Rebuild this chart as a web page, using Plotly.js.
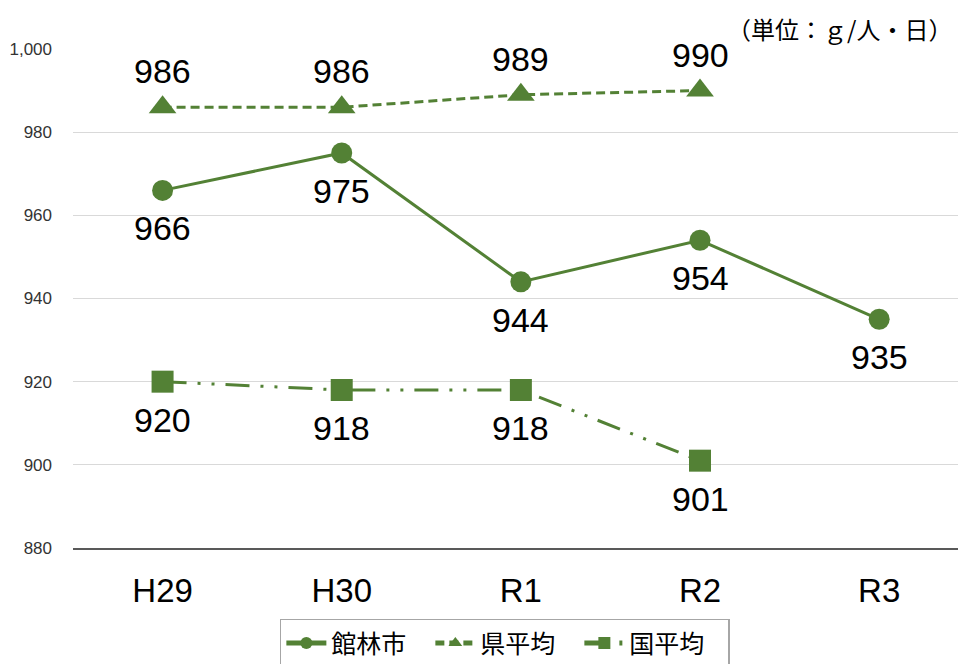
<!DOCTYPE html>
<html>
<head>
<meta charset="utf-8">
<script src="https://cdn.plot.ly/plotly-3.0.1.min.js"></script>
<style>
  html, body { margin: 0; padding: 0; background: #fff; overflow: hidden; }
  #chart { width: 958px; height: 664px; }
</style>
</head>
<body>
<div id="chart"></div>
<script>
// Fiscal years
const years = ['H29', 'H30', 'R1', 'R2', 'R3'];

// Daily waste per person (g/人・日)
const tatebayashi = [966, 975, 944, 954, 935];
const prefAverage = [986, 986, 989, 990, null];
const nationalAverage = [920, 918, 918, 901, null];

const yTicks = [880, 900, 920, 940, 960, 980, 1000];
const yTickLabels = ['880', '900', '920', '940', '960', '980', '1,000'];

const green = '#538135';
const latin = 'Liberation Sans, Arial, sans-serif';
const cjk = 'Noto Sans CJK JP, sans-serif';

const traces = [
  {
    name: '館林市',
    x: years, y: tatebayashi,
    mode: 'lines+markers',
    line: { color: green, width: 3 },
    marker: { symbol: 'circle', size: 21, color: green },
    cliponaxis: false
  },
  {
    name: '県平均',
    x: years, y: prefAverage,
    mode: 'lines+markers',
    line: { color: green, width: 3, dash: '9px,5px' },
    marker: { symbol: 'triangle-up', size: 24, color: green },
    cliponaxis: false
  },
  {
    name: '国平均',
    x: years, y: nationalAverage,
    mode: 'lines+markers',
    line: { color: green, width: 3, dash: '24px,11px,3px,11px,3px,11px' },
    marker: { symbol: 'square', size: 22, color: green },
    cliponaxis: false
  }
];

// Value labels: above the prefecture series, below the others
function valueLabels(values, shift) {
  const out = [];
  values.forEach((v, i) => {
    if (v === null) return;
    out.push({
      x: years[i], y: v, xref: 'x', yref: 'y',
      text: String(v), showarrow: false,
      xanchor: 'center', yanchor: 'middle', yshift: shift,
      font: { family: latin, size: 34, color: '#000' }
    });
  });
  return out;
}

const annotations = [
  ...valueLabels(tatebayashi, -38),
  ...valueLabels(prefAverage, 36),
  ...valueLabels(nationalAverage, -38),
  {
    text: '（単位：ｇ/人・日）',
    xref: 'paper', yref: 'paper',
    x: 0.996, y: 1.042,
    xanchor: 'right', yanchor: 'middle',
    showarrow: false,
    font: { family: cjk, size: 24, color: '#000' }
  }
];

const layout = {
  width: 958,
  height: 664,
  margin: { l: 73, r: 0, t: 49, b: 116 },
  paper_bgcolor: '#fff',
  plot_bgcolor: '#fff',
  showlegend: true,
  font: { family: latin, color: '#000' },
  xaxis: {
    type: 'category',
    range: [-0.5, 4.44],
    showgrid: false,
    zeroline: false,
    showline: true,
    linecolor: '#595959',
    linewidth: 2,
    ticks: '',
    ticklabelstandoff: 12,
    tickfont: { family: latin, size: 33, color: '#000' },
    fixedrange: true
  },
  yaxis: {
    range: [880, 1000],
    tickvals: yTicks,
    ticktext: yTickLabels,
    showgrid: true,
    gridcolor: '#d9d9d9',
    gridwidth: 1,
    zeroline: false,
    showline: false,
    ticks: '',
    ticklabelstandoff: 20,
    tickfont: { family: latin, size: 17, color: '#333' },
    fixedrange: true
  },
  legend: {
    orientation: 'h',
    xref: 'container', yref: 'container',
    x: 0.527, xanchor: 'center',
    y: 0.068, yanchor: 'top',
    bordercolor: '#a6a6a6',
    borderwidth: 1.5,
    bgcolor: '#fff',
    font: { family: cjk, size: 25, color: '#000' },
    itemsizing: 'constant',
    itemwidth: 40,
    entrywidth: 94,
    tracegroupgap: 0
  },
  annotations: annotations
};

Plotly.newPlot('chart', traces, layout, { displayModeBar: false, staticPlot: true });
</script>
</body>
</html>
